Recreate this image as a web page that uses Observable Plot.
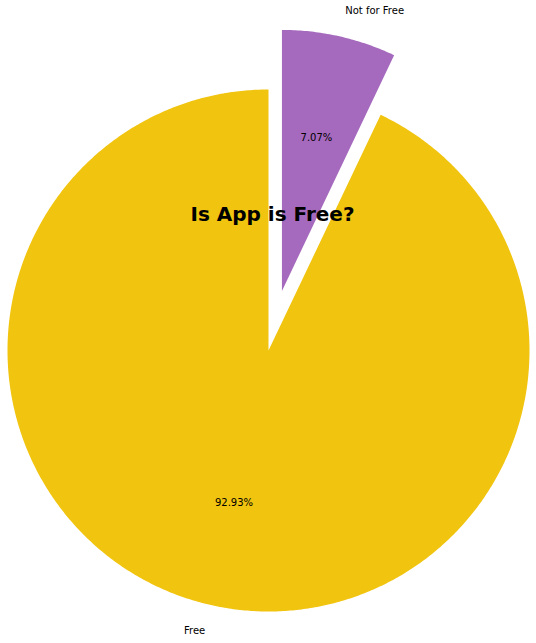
<!DOCTYPE html>
<html>
<head>
<meta charset="utf-8">
<script src="https://cdn.jsdelivr.net/npm/d3@7"></script>
<script src="https://cdn.jsdelivr.net/npm/@observablehq/plot@0.6"></script>
<style>
  html, body { margin: 0; padding: 0; background: #fff; }
  #chart svg { display: block; }
</style>
</head>
<body>
<div id="chart"></div>
<script>
const categories = ["Free", "Not for Free"];
const shares = [92.93, 7.07];
const colors = ["#F1C40F", "#A569BD"];
const explode = [0, 0.234];
const titleText = "Is App is Free?";

const W = 536, H = 643;
const R = 261, CX = 268, CY = 350;

// matplotlib-style: start at 90deg, counter-clockwise
const total = d3.sum(shares);
let theta = 90;
const slices = categories.map((c, i) => {
  const t1 = theta;
  const t2 = theta + shares[i] / total * 360;
  theta = t2;
  const mid = (t1 + t2) / 2 * Math.PI / 180;
  const ox = explode[i] * Math.cos(mid), oy = explode[i] * Math.sin(mid);
  return {c, i, t1, t2, mid, ox, oy};
});

const polyPts = [];
for (const s of slices) {
  polyPts.push({c: s.c, x: s.ox, y: s.oy});
  const n = Math.max(2, Math.ceil((s.t2 - s.t1) / 0.5));
  for (let k = 0; k <= n; k++) {
    const a = (s.t1 + (s.t2 - s.t1) * k / n) * Math.PI / 180;
    polyPts.push({c: s.c, x: s.ox + Math.cos(a), y: s.oy + Math.sin(a)});
  }
  polyPts.push({c: s.c, x: s.ox, y: s.oy});
}

const labels = slices.map(s => ({
  text: s.c,
  x: s.ox + 1.1 * Math.cos(s.mid),
  y: s.oy + 1.1 * Math.sin(s.mid),
  anchor: Math.cos(s.mid) > 0 ? "start" : "end"
}));
const pcts = slices.map((s, i) => ({
  text: shares[i].toFixed(2) + "%",
  x: s.ox + 0.6 * Math.cos(s.mid),
  y: s.oy + 0.6 * Math.sin(s.mid)
}));

const chart = Plot.plot({
  width: W,
  height: H,
  margin: 0,
  style: {fontFamily: "DejaVu Sans", fontSize: "10px", background: "#fff", color: "#000"},
  x: {domain: [-CX / R, (W - CX) / R], axis: null},
  y: {domain: [-(H - CY) / R, CY / R], axis: null},
  color: {domain: categories, range: colors},
  marks: [
    Plot.line(polyPts, {x: "x", y: "y", z: "c", fill: "c", stroke: null, curve: "linear"}),
    Plot.text(labels.filter(d => d.anchor === "start"), {x: "x", y: "y", text: "text", textAnchor: "start", lineAnchor: "middle", fill: "#000", fontSize: 10}),
    Plot.text(labels.filter(d => d.anchor === "end"), {x: "x", y: "y", text: "text", textAnchor: "end", lineAnchor: "middle", fill: "#000", fontSize: 10}),
    Plot.text(pcts, {x: "x", y: "y", text: "text", textAnchor: "middle", lineAnchor: "middle", fill: "#000", fontSize: 10}),
    Plot.text([titleText], {frameAnchor: "top", dx: 4, dy: 214, text: d => d, lineAnchor: "middle", fontSize: 20, fontWeight: "bold", fill: "#000"})
  ]
});
document.getElementById("chart").appendChild(chart);
</script>
</body>
</html>
